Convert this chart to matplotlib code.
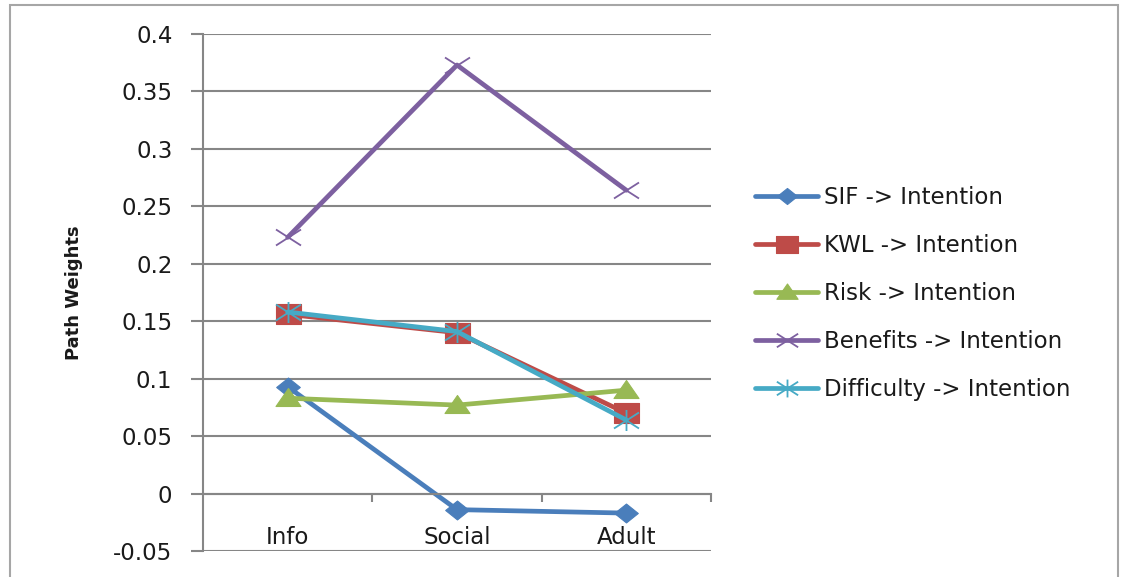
import matplotlib.pyplot as plt
import matplotlib.patches as patches
from matplotlib.path import Path
import numpy as np

plt.rcParams['font.family'] = ['DejaVu Sans']

groups = ['Info', 'Social', 'Adult']
sif = [0.093, -0.014, -0.017]
kwl = [0.156, 0.140, 0.070]
risk = [0.083, 0.077, 0.090]
benefits = [0.223, 0.373, 0.264]
difficulty = [0.158, 0.141, 0.064]

names = ['SIF -> Intention', 'KWL -> Intention', 'Risk -> Intention',
         'Benefits -> Intention', 'Difficulty -> Intention']
colors = ['#4a7ebb', '#be4b48', '#98b954', '#7d60a0', '#46aac5']
yticks = [-0.05, 0, 0.05, 0.1, 0.15, 0.2, 0.25, 0.3, 0.35, 0.4]
yticklabels = ['-0.05', '0', '0.05', '0.1', '0.15', '0.2', '0.25', '0.3', '0.35', '0.4']

grid_col = '#868686'
txt_col = '#1a1a1a'

# markers a bit wider than tall, like the spreadsheet ones
W = 1.25
diamond = Path([(0, 1), (W, 0), (0, -1), (-W, 0), (0, 1)], closed=True)
square = Path([(-W, -1), (W, -1), (W, 1), (-W, 1), (-W, -1)], closed=True)
triangle = Path([(-W, -0.8), (W, -0.8), (0, 1), (-W, -0.8)], closed=True)
cross = Path([(-W, -0.8), (W, 0.8), (-W, 0.8), (W, -0.8)],
             [Path.MOVETO, Path.LINETO, Path.MOVETO, Path.LINETO])
star = Path([(-W, -0.8), (W, 0.8), (-W, 0.8), (W, -0.8), (0, -1.05), (0, 1.05)],
            [Path.MOVETO, Path.LINETO, Path.MOVETO, Path.LINETO,
             Path.MOVETO, Path.LINETO])

fig = plt.figure(figsize=(11.25, 5.77), dpi=100)
ax = fig.add_axes([203/1125, 1-551/577, 508/1125, 517/577])

# outer chart frame (bottom edge runs off the image)
frame = patches.Rectangle((10/1125, -0.05), 1108/1125, 1.05-5/577,
                          transform=fig.transFigure, fill=False,
                          edgecolor='#a6a6a6', lw=1.5, clip_on=False)
fig.patches.append(frame)

x = np.arange(len(groups))
series = [sif, kwl, risk, benefits, difficulty]
markers = [diamond, square, triangle, cross, star]
msizes = [17, 18, 18, 18, 18]
filled = [True, True, True, False, False]
for vals, name, col, mk, ms, fl in zip(series, names, colors, markers, msizes, filled):
    ax.plot(x, vals, color=col, lw=3.4, marker=mk, markersize=ms,
            markeredgewidth=0.8 if fl else 1.3,
            markerfacecolor=col if fl else 'none', markeredgecolor=col,
            label=name, solid_capstyle='round', solid_joinstyle='round')

ax.set_xlim(-0.5, 2.5)
ax.set_ylim(-0.05, 0.4)
ax.set_yticks(yticks)
ax.set_yticklabels(yticklabels)
ax.yaxis.grid(True, color=grid_col, lw=1.5)
ax.set_axisbelow(True)

for s in ['top', 'right']:
    ax.spines[s].set_visible(False)
ax.spines['left'].set_color(grid_col)
ax.spines['left'].set_linewidth(1.5)
ax.spines['bottom'].set_position(('data', 0))
ax.spines['bottom'].set_color(grid_col)
ax.spines['bottom'].set_linewidth(1.5)

ax.set_xticks(x)
ax.set_xticklabels(groups)
ax.set_xticks([0.5, 1.5, 2.5], minor=True)
ax.tick_params(axis='x', which='major', length=0, pad=23, labelsize=16.5,
               labelcolor=txt_col)
ax.tick_params(axis='x', which='minor', length=6, width=1.5, color=grid_col,
               direction='out')
ax.tick_params(axis='y', length=9, width=1.5, color=grid_col, pad=13,
               labelsize=16.5, labelcolor=txt_col)

ax.set_ylabel('Path Weights', fontsize=13, fontweight='bold', color=txt_col,
              labelpad=22)

ax.legend(loc='upper left', bbox_to_anchor=(755/1125, 1-186/577),
          bbox_transform=fig.transFigure, frameon=False, fontsize=16.5,
          handlelength=2.75, handletextpad=0.25, labelspacing=1.09,
          borderpad=0, borderaxespad=0, labelcolor=txt_col, markerscale=0.85)

fig.savefig('out.png', dpi=100)
